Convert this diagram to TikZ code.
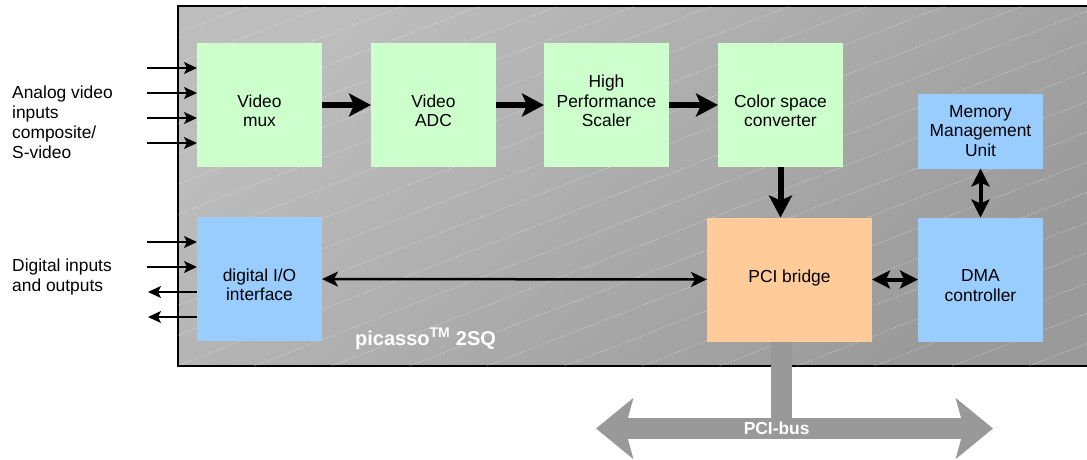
\documentclass[tikz,border=0pt]{standalone}
\usepackage{fontspec}
\setmainfont{Liberation Sans}
\usepackage{tikz}
\usetikzlibrary{arrows.meta,positioning,calc}
\definecolor{vidgreen}{HTML}{CCFFCC}
\definecolor{ioblue}{HTML}{99CCFF}
\definecolor{pciorange}{HTML}{FFCC99}
\definecolor{chiptop}{HTML}{BDBDBD}
\definecolor{chipbot}{HTML}{9A9A9A}
\definecolor{busgray}{HTML}{999999}
\tikzset{
  block/.style={rectangle,fill=#1,minimum width=125pt,minimum height=124pt,
    inner sep=2pt,outer sep=0pt,align=center,text=black,
    font=\fontsize{17.4}{19.5}\selectfont},
  block/.default={vidgreen},
  textdown/.style={execute at begin node={\rule{0pt}{#1}}},
  textdown/.default={44pt},
  textup/.style={execute at end node={\rule[-#1]{0pt}{0pt}}},
  chip/.style={rectangle,draw=black,line width=1.3pt,outer sep=0pt,
    top color=chiptop,bottom color=chipbot,shading angle=40},
  hatch/.style={white,opacity=0.45,line width=0.6pt,dash pattern=on 1.5pt off 1.5pt},
  sigarrow/.style={-{Stealth[length=13pt,width=12pt,inset=3pt]},line width=1.5pt},
  fatarrow/.style={-{Stealth[length=22pt,width=23pt,inset=5pt]},line width=6pt},
  biarrow/.style={{Stealth[length=#1,width=#1,inset=4pt]}-{Stealth[length=#1,width=#1,inset=4pt]},line width=4pt},
  biarrow/.default={18pt},
  thinbi/.style={{Stealth[length=16pt,width=15pt,inset=4pt]}-{Stealth[length=16pt,width=15pt,inset=4pt]},line width=2.5pt},
  bus/.style={busgray,line width=21pt},
  sidelabel/.style={align=left,inner sep=0pt,text=black,font=\fontsize{17.4}{20}\selectfont},
  whitelabel/.style={text=white,inner sep=0pt,font=\fontsize{#1}{#1}\selectfont\bfseries},
  whitelabel/.default={17.4},
}
\begin{document}
\begin{tikzpicture}[x=1pt,y=-1pt]
  \useasboundingbox (0,0) rectangle (1087,459);
  \node[chip,anchor=north west,minimum width=917pt,minimum height=360pt] (chip) at (178,6) {};
  \begin{scope}
    \clip (chip.north west) rectangle (chip.south east);
    \foreach \k in {-9,...,14}
      \draw[hatch] ({-55.6+77.5*\k},366) -- ++(923,-360);
  \end{scope}
  \node[block,textdown] (mux) at (259.5,105) {Video\\mux};
  \node[block,textdown,right=49pt of mux] (adc) {Video\\ADC};
  \node[block,textup=8pt,right=48pt of adc] (scaler) {High\\Performance\\Scaler};
  \node[block,textdown,right=49pt of scaler] (csc) {Color space\\converter};
  \node[block=ioblue,textdown,below=50pt of mux] (dio) {digital I/O\\interface};
  \node[block=ioblue,textdown] (dma) at (980.5,279.5) {DMA\\controller};
  \node[block=ioblue,minimum height=75pt,above=49pt of dma] (mmu) {Memory\\Management\\Unit};
  \node[block=pciorange,textup=6pt,minimum width=165pt,left=46pt of dma] (pci) {PCI bridge};
  \node[whitelabel=20,anchor=base west] (name) at (355,345) {picasso\textsuperscript{TM} 2SQ};
  \node[sidelabel,anchor=west] (avlabel) at (12,122) {Analog video\\inputs\\composite/\\S-video};
  \node[sidelabel,anchor=west] (diglabel) at (12,277) {Digital inputs\\and outputs};
  \draw[fatarrow] (mux) -- (adc);
  \draw[fatarrow] (adc) -- (scaler);
  \draw[fatarrow] (scaler) -- (csc);
  \draw[fatarrow] (csc) -- (csc |- pci.north);
  \draw[biarrow] (mmu) -- (dma);
  \draw[biarrow] (pci) -- (dma);
  \draw[thinbi] (dio) -- (pci);
  \foreach \y [count=\i] in {68,93,118,143} {
    \coordinate (av\i) at (147,\y);
    \draw[sigarrow] (av\i) -- (av\i -| mux.west);
  }
  \foreach \y [count=\i] in {242,267} {
    \coordinate (din\i) at (147,\y);
    \draw[sigarrow] (din\i) -- (din\i -| dio.west);
  }
  \foreach \y [count=\i] in {292,317} {
    \coordinate (dout\i) at (148,\y);
    \draw[sigarrow] (dout\i -| dio.west) -- (dout\i);
  }
  \coordinate (busL) at (596,428.5);
  \coordinate (busR) at (993,428.5);
  \draw[bus] ([xshift=-8pt]pci.south) -- ([xshift=-8pt]pci.south |- busL);
  \draw[bus,{Stealth[length=37pt,width=60pt,inset=8pt]}-{Stealth[length=37pt,width=60pt,inset=8pt]}] (busL) -- (busR)
    node[whitelabel,pos=0.455] {PCI-bus};
\end{tikzpicture}
\end{document}
